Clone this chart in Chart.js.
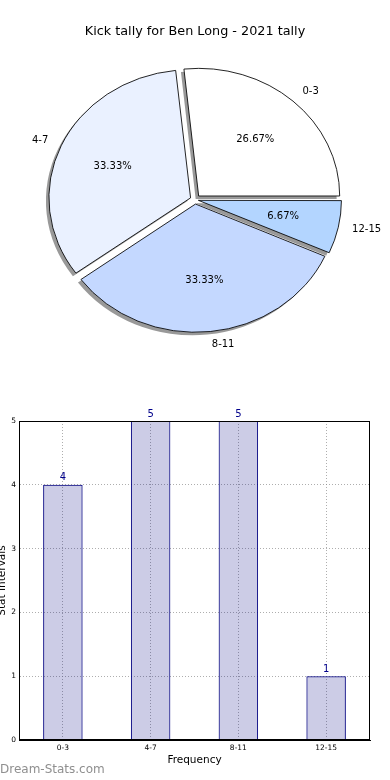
<!DOCTYPE html>
<html>
<head>
<meta charset="utf-8">
<script src="https://cdn.jsdelivr.net/npm/chart.js@4.4.1/dist/chart.umd.min.js"></script>
<style>
  html, body { margin: 0; padding: 0; background: #fff; }
  body { width: 390px; height: 780px; position: relative; overflow: hidden; font-family: "DejaVu Sans", sans-serif; }
  #pieChart { position: absolute; left: 0; top: 0; }
  #barChart { position: absolute; left: 0; top: 380px; }
  #mark { position: absolute; left: 0; top: 761px; font-size: 12px; color: #8f8f8f; line-height: 16px; }
</style>
</head>
<body>
<canvas id="pieChart" width="390" height="380"></canvas>
<canvas id="barChart" width="390" height="400"></canvas>
<div id="mark">Dream-Stats.com</div>
<script>
const intervals = ["0-3", "4-7", "8-11", "12-15"];
const counts = [4, 5, 5, 1];
const pieColors = ["#ffffff", "#eaf1ff", "#c4d8ff", "#b3d5ff"];
const yTicks = [0, 1, 2, 3, 4, 5];

const total = counts.reduce((a, b) => a + b, 0);
const pctLabels = counts.map((c) => (c / total * 100).toFixed(2) + "%");

// matplotlib draws counter clockwise from 3 o'clock, chart.js clockwise -> reverse
const pieLabels = intervals.slice().reverse();
const pieCounts = counts.slice().reverse();
const piePct = pctLabels.slice().reverse();
const pieFill = pieColors.slice().reverse();

const R = 141;        // horizontal radius
const squash = 0.905; // pie is an ellipse in the original
const gap = 5.5;      // explode distance

// chart.js pushes small arcs out a bit more, compensate so every wedge moves the same
const pieOffsets = pieCounts.map((c) => {
  const circ = c / total * Math.PI * 2;
  const fix = 1 - Math.sin(Math.min(Math.PI, circ));
  return 4 * gap / (1 + fix);
});

const pieDecor = {
  id: "pieDecor",
  beforeDatasetsDraw(chart) {
    const ctx = chart.ctx;
    const arcs = chart.getDatasetMeta(0).data;
    const cx = arcs[0].x, cy = arcs[0].y;
    // shadow pass
    ctx.save();
    ctx.translate(-3, 3);
    ctx.translate(cx, cy);
    ctx.scale(1, squash);
    ctx.translate(-cx, -cy);
    arcs.forEach((arc) => {
      const o = arc.options;
      const bg = o.backgroundColor, bw = o.borderWidth;
      o.backgroundColor = "rgba(0,0,0,0.4)";
      o.borderWidth = 0;
      arc.draw(ctx);
      o.backgroundColor = bg;
      o.borderWidth = bw;
    });
    ctx.restore();
    // squash the real wedges
    ctx.save();
    ctx.translate(cx, cy);
    ctx.scale(1, squash);
    ctx.translate(-cx, -cy);
  },
  afterDatasetsDraw(chart) {
    chart.ctx.restore();
  },
  afterDraw(chart) {
    const ctx = chart.ctx;
    const arcs = chart.getDatasetMeta(0).data;
    ctx.save();
    ctx.font = "10px 'DejaVu Sans'";
    ctx.fillStyle = "#000";
    ctx.textBaseline = "middle";
    arcs.forEach((arc, i) => {
      const a = (arc.startAngle + arc.endAngle) / 2;
      const c = Math.cos(a), s = Math.sin(a);
      const lx = arc.x + c * (gap + 1.1 * R);
      const ly = arc.y + s * (gap + 1.1 * R) * squash;
      ctx.textAlign = c > 0 ? "left" : "right";
      ctx.fillText(pieLabels[i], lx, ly);
      const px = arc.x + c * (gap + 0.6 * R);
      const py = arc.y + s * (gap + 0.6 * R) * squash;
      ctx.textAlign = "center";
      ctx.fillText(piePct[i], px, py);
    });
    ctx.restore();
  }
};

new Chart(document.getElementById("pieChart"), {
  type: "pie",
  data: {
    labels: pieLabels,
    datasets: [{
      data: pieCounts,
      backgroundColor: pieFill,
      borderColor: "#000",
      borderWidth: 0.9,
      offset: pieOffsets,
      hoverOffset: 0
    }]
  },
  options: {
    responsive: false,
    animation: false,
    events: [],
    rotation: 90,
    radius: R,
    layout: { padding: { top: 0, bottom: 20, left: 0, right: 0 } },
    plugins: {
      legend: { display: false },
      tooltip: { enabled: false },
      title: {
        display: true,
        text: "Kick tally for Ben Long - 2021 tally",
        color: "#000",
        font: { family: "DejaVu Sans", size: 12.8, weight: "normal" },
        padding: { top: 24, bottom: 0 }
      }
    }
  },
  plugins: [pieDecor]
});

const barDecor = {
  id: "barDecor",
  afterDatasetsDraw(chart) {
    const ctx = chart.ctx;
    const a = chart.chartArea;
    const meta = chart.getDatasetMeta(0);
    ctx.save();
    ctx.strokeStyle = "#000";
    ctx.lineWidth = 1;
    ctx.strokeRect(a.left + 0.5, a.top + 0.5, a.right - a.left - 1, a.bottom - a.top - 1);
    ctx.font = "10px 'DejaVu Sans'";
    ctx.fillStyle = "#00008b";
    ctx.textAlign = "center";
    ctx.textBaseline = "bottom";
    meta.data.forEach((bar, i) => {
      ctx.fillText(String(counts[i]), bar.x, bar.y - 2);
    });
    ctx.restore();
  }
};

new Chart(document.getElementById("barChart"), {
  type: "bar",
  data: {
    labels: intervals,
    datasets: [{
      data: counts,
      backgroundColor: "rgba(0,0,128,0.2)",
      borderColor: "#000080",
      borderWidth: 1,
      barPercentage: 0.45,
      categoryPercentage: 1
    }]
  },
  options: {
    responsive: false,
    animation: false,
    events: [],
    layout: { padding: { top: 41, right: 20, left: 0, bottom: 0 } },
    plugins: { legend: { display: false }, tooltip: { enabled: false } },
    scales: {
      x: {
        offset: true,
        grid: { offset: false, color: "rgba(140,140,140,0.7)", drawTicks: false },
        border: { display: true, color: "#000", dash: [1, 2] },
        ticks: { color: "#000", font: { family: "DejaVu Sans", size: 7.5 }, padding: 4 },
        title: { display: true, text: "Frequency", color: "#000", font: { family: "DejaVu Sans", size: 10.5 }, padding: { top: 1, bottom: 13 } },
        afterFit(scale) { scale.height = 40; }
      },
      y: {
        min: 0,
        max: 5,
        afterBuildTicks(scale) { scale.ticks = yTicks.map((v) => ({ value: v })); },
        grid: { color: "rgba(140,140,140,0.7)", drawTicks: false },
        border: { display: true, color: "#000", dash: [1, 2] },
        ticks: { color: "#000", font: { family: "DejaVu Sans", size: 7.5 }, padding: 3 },
        title: { display: true, text: "Stat Intervals", color: "#000", font: { family: "DejaVu Sans", size: 10.5 }, padding: { top: -4, bottom: 0 } },
        afterFit(scale) { scale.width = 19; }
      }
    }
  },
  plugins: [barDecor]
});
</script>
</body>
</html>
